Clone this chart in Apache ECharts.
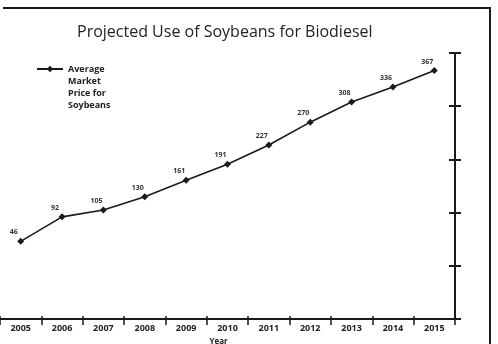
<!DOCTYPE html>
<html>
<head>
<meta charset="utf-8">
<script src="https://cdn.jsdelivr.net/npm/echarts@6/dist/echarts.min.js"></script>
<style>
  html, body { margin: 0; padding: 0; background: #fff; overflow: hidden; }
  #wrap { position: relative; width: 498px; height: 344px; overflow: hidden; }
  #chart { width: 498px; height: 344px; }
  #frame { position: absolute; left: 3px; top: 7px; width: 486px; height: 340px;
           border-top: 2px solid #1a1a1a; border-right: 2px solid #1a1a1a; pointer-events: none; }
</style>
</head>
<body>
<div id="wrap">
  <div id="chart"></div>
  <div id="frame"></div>
</div>
<script>
var years = ['2005', '2006', '2007', '2008', '2009', '2010', '2011', '2012', '2013', '2014', '2015'];
var prices = [46, 92, 105, 130, 161, 191, 227, 270, 308, 336, 367];
var seriesName = 'Average\nMarket\nPrice for\nSoybeans';

var ink = '#1a1a1a';
var font = 'Open Sans';

var myChart = echarts.init(document.getElementById('chart'));

var option = {
    animation: false,
    textStyle: { fontFamily: font, color: ink },
    title: {
        text: 'Projected Use of Soybeans for Biodiesel',
        left: 72,
        top: 19,
        textStyle: { fontFamily: font, fontSize: 16, fontWeight: 'normal', color: '#222' }
    },
    legend: {
        data: [seriesName],
        left: 31,
        top: 22,
        itemWidth: 26,
        itemHeight: 8,
        // blank lines above so the first text line sits level with the icon
        formatter: function (name) { return '\n\n\n' + name; },
        textStyle: {
            fontFamily: font, fontSize: 9, fontWeight: 'bold', color: '#222', lineHeight: 12
        }
    },
    grid: { left: 0, right: 43, top: 53, bottom: 25, outerBoundsMode: 'none' },
    xAxis: [
        {
            type: 'category',
            data: years,
            position: 'bottom',
            boundaryGap: true,
            name: 'Year',
            nameLocation: 'middle',
            nameGap: 17,
            nameTextStyle: { fontFamily: font, fontSize: 8, fontWeight: 'bold', color: '#222', padding: [0, 18, 0, 0] },
            axisLine: { show: true, onZero: false, lineStyle: { color: ink, width: 2 } },
            axisTick: { show: true, length: 6, lineStyle: { color: ink, width: 1.5 } },
            axisLabel: { margin: 5, fontFamily: font, fontSize: 9, fontWeight: 'bold', color: '#222' },
            splitLine: { show: false }
        },
        {
            type: 'category',
            data: years,
            position: 'bottom',
            boundaryGap: true,
            axisLine: { show: false, onZero: false },
            axisTick: { show: true, inside: true, length: 3, lineStyle: { color: ink, width: 1.5 } },
            axisLabel: { show: false },
            splitLine: { show: false }
        }
    ],
    yAxis: [
        {
            type: 'value',
            position: 'right',
            min: -100,
            max: 400,
            interval: 100,
            axisLine: { show: true, onZero: false, lineStyle: { color: ink, width: 2 } },
            axisTick: { show: true, length: 6, lineStyle: { color: ink, width: 2 } },
            axisLabel: { show: false },
            splitLine: { show: false }
        },
        {
            type: 'value',
            position: 'right',
            min: -100,
            max: 400,
            interval: 100,
            axisLine: { show: false, onZero: false },
            axisTick: { show: true, inside: true, length: 6, lineStyle: { color: ink, width: 2 } },
            axisLabel: { show: false },
            splitLine: { show: false }
        }
    ],
    series: [
        {
            name: seriesName,
            type: 'line',
            data: prices,
            symbol: 'diamond',
            symbolSize: 7,
            itemStyle: { color: ink },
            lineStyle: { color: ink, width: 1.6 },
            label: {
                show: true,
                position: 'top',
                distance: 2,
                offset: [-7, 0],
                fontFamily: font,
                fontSize: 7,
                fontWeight: 'bold',
                color: '#333'
            }
        }
    ]
};

myChart.setOption(option);
</script>
</body>
</html>
